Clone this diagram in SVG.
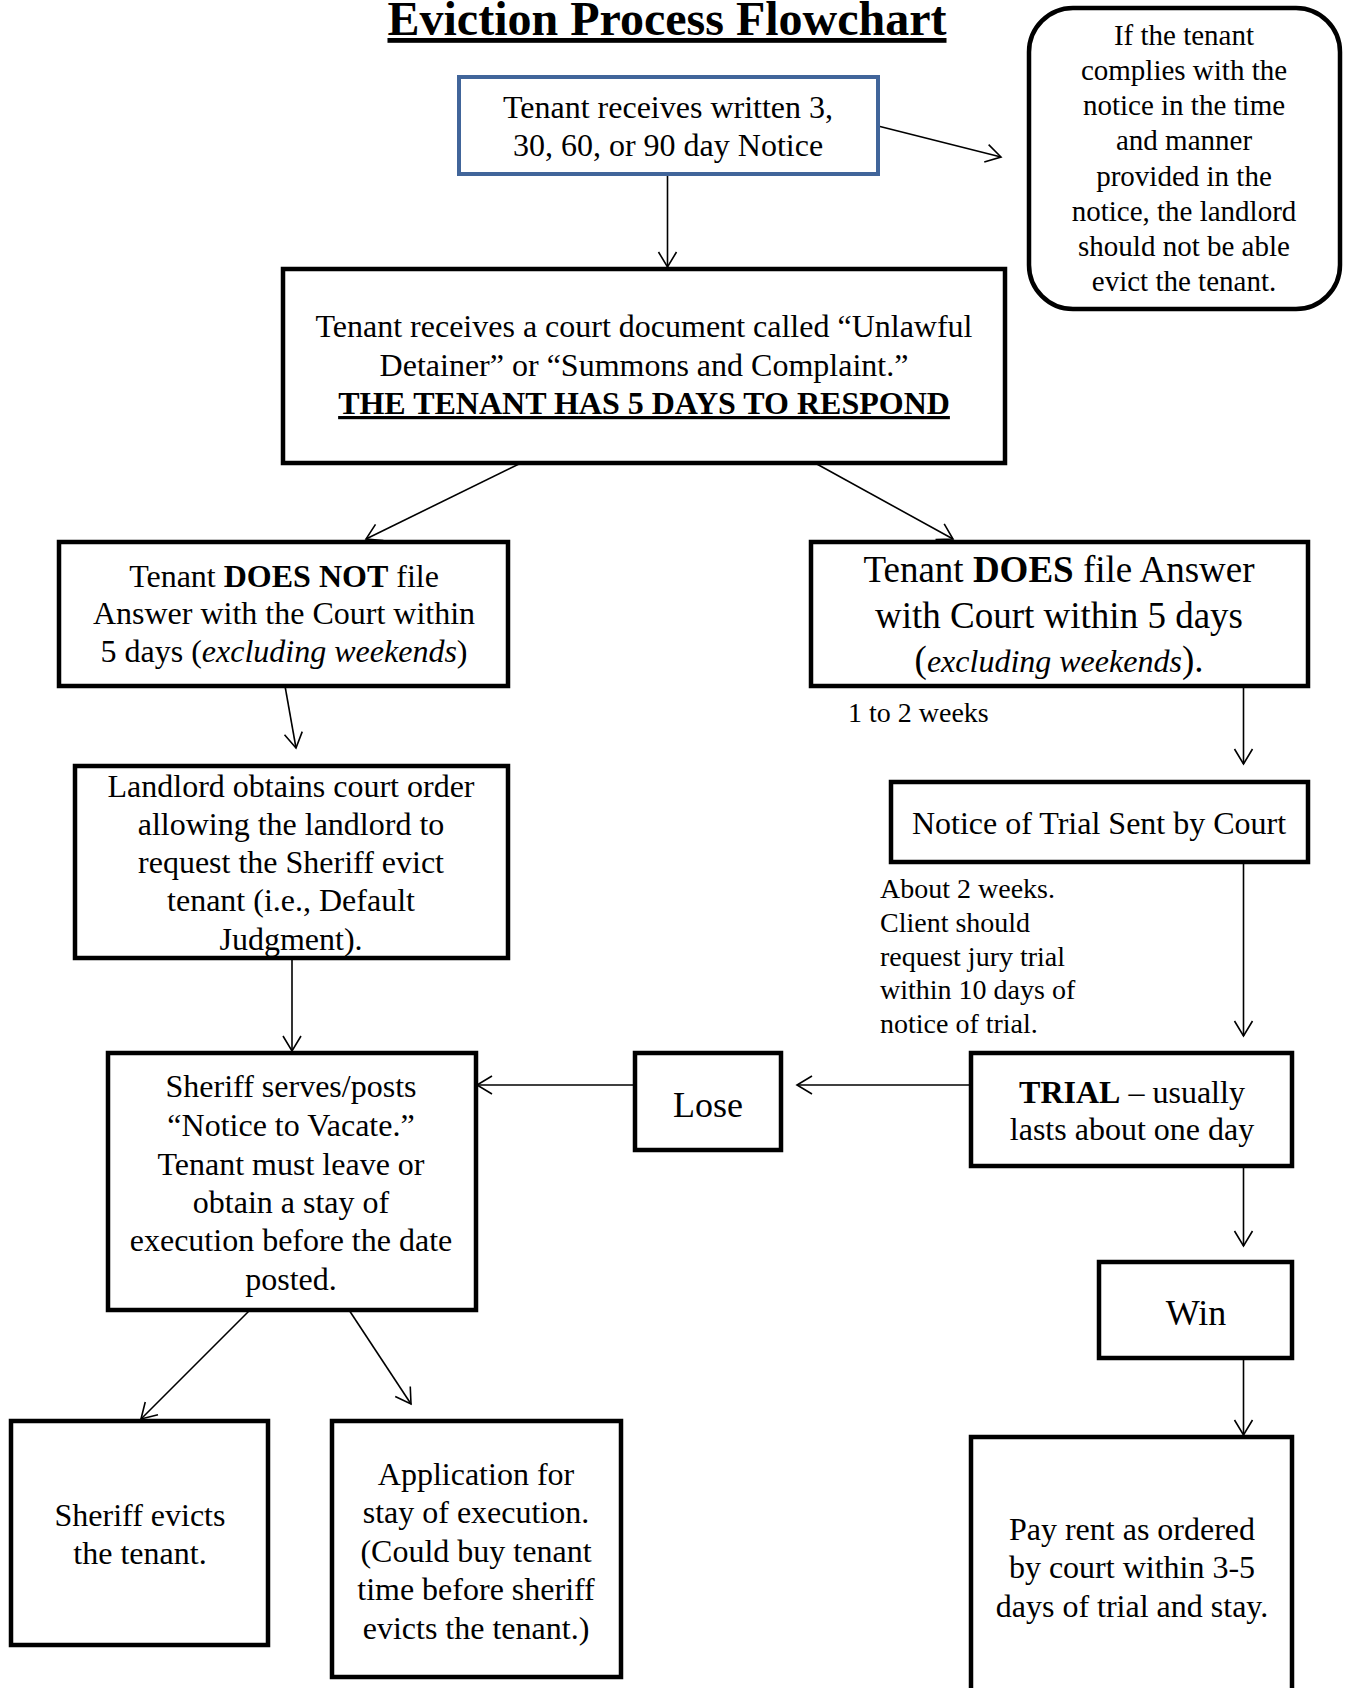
<svg xmlns="http://www.w3.org/2000/svg" width="1348" height="1688" viewBox="0 0 1348 1688">
<defs>
<style>
.t{font-family:"Liberation Serif","Times New Roman",serif;font-size:32px;fill:#000;text-anchor:middle}
.s{font-family:"Liberation Serif","Times New Roman",serif;font-size:28px;fill:#000}
.box{fill:#fff;stroke:#000;stroke-width:4.5}
.c{fill:none;stroke:#000;stroke-width:1.6}
</style>
<marker id="ah" markerUnits="userSpaceOnUse" markerWidth="18" markerHeight="22" refX="16" refY="11" orient="auto" viewBox="0 0 18 22">
<path d="M1,2 L16,11 L1,20" fill="none" stroke="#000" stroke-width="1.6"/>
</marker>
</defs>
<rect width="1348" height="1688" fill="#fff"/>

<text x="667" y="35" class="t" style="font-size:48px;font-weight:bold;text-decoration:underline">Eviction Process Flowchart</text>

<g id="connectors">
<line class="c" x1="878" y1="126" x2="1001" y2="157" marker-end="url(#ah)"/>
<line class="c" x1="667.5" y1="174" x2="667.5" y2="267" marker-end="url(#ah)"/>
<line class="c" x1="521" y1="463" x2="366" y2="539" marker-end="url(#ah)"/>
<line class="c" x1="815" y1="463" x2="953" y2="539" marker-end="url(#ah)"/>
<line class="c" x1="285" y1="686" x2="296" y2="748" marker-end="url(#ah)"/>
<line class="c" x1="1243.5" y1="686" x2="1243.5" y2="764" marker-end="url(#ah)"/>
<line class="c" x1="292" y1="958" x2="292" y2="1051" marker-end="url(#ah)"/>
<line class="c" x1="1243.5" y1="862" x2="1243.5" y2="1036" marker-end="url(#ah)"/>
<line class="c" x1="971" y1="1085" x2="797" y2="1085" marker-end="url(#ah)"/>
<line class="c" x1="635" y1="1085" x2="477" y2="1085" marker-end="url(#ah)"/>
<line class="c" x1="1243.5" y1="1166" x2="1243.5" y2="1246" marker-end="url(#ah)"/>
<line class="c" x1="250" y1="1310" x2="141" y2="1419" marker-end="url(#ah)"/>
<line class="c" x1="349" y1="1310" x2="411" y2="1404" marker-end="url(#ah)"/>
<line class="c" x1="1243.5" y1="1358" x2="1243.5" y2="1435" marker-end="url(#ah)"/>
</g>

<g id="notice">
<rect x="459" y="77" width="419" height="97" fill="#fff" stroke="#41659A" stroke-width="4"/>
<text class="t" x="668" y="118">Tenant receives written 3,</text>
<text class="t" x="668" y="156">30, 60, or 90 day Notice</text>
</g>

<g id="comply">
<rect x="1029" y="8" width="311" height="301" rx="44" class="box"/>
<text class="t" style="font-size:29px" x="1184" y="45">If the tenant</text>
<text class="t" style="font-size:29px" x="1184" y="80">complies with the</text>
<text class="t" style="font-size:29px" x="1184" y="115">notice in the time</text>
<text class="t" style="font-size:29px" x="1184" y="150">and manner</text>
<text class="t" style="font-size:29px" x="1184" y="186">provided in the</text>
<text class="t" style="font-size:29px" x="1184" y="221">notice, the landlord</text>
<text class="t" style="font-size:29px" x="1184" y="256">should not be able</text>
<text class="t" style="font-size:29px" x="1184" y="291">evict the tenant.</text>
</g>

<g id="court-doc">
<rect x="283" y="269" width="722" height="194" class="box"/>
<text class="t" x="644" y="337">Tenant receives a court document called “Unlawful</text>
<text class="t" x="644" y="376">Detainer” or “Summons and Complaint.”</text>
<text class="t" x="644" y="414" style="font-weight:bold;text-decoration:underline">THE TENANT HAS 5 DAYS TO RESPOND</text>
</g>

<g id="does-not">
<rect x="59" y="542" width="449" height="144" class="box"/>
<text class="t" x="284" y="587">Tenant <tspan font-weight="bold">DOES NOT</tspan> file</text>
<text class="t" x="284" y="624">Answer with the Court within</text>
<text class="t" x="284" y="662">5 days (<tspan font-style="italic">excluding weekends</tspan>)</text>
</g>

<g id="does">
<rect x="811" y="542" width="497" height="144" class="box"/>
<text class="t" style="font-size:37px" x="1059" y="582">Tenant <tspan font-weight="bold">DOES</tspan> file Answer</text>
<text class="t" style="font-size:37px" x="1059" y="628">with Court within 5 days</text>
<text class="t" x="1059" y="672"><tspan style="font-size:37px">(</tspan><tspan font-style="italic">excluding weekends</tspan><tspan style="font-size:37px">).</tspan></text>
</g>

<text class="s" x="848" y="722">1 to 2 weeks</text>

<g id="landlord">
<rect x="75" y="766" width="433" height="192" class="box"/>
<text class="t" x="291" y="797">Landlord obtains court order</text>
<text class="t" x="291" y="835">allowing the landlord to</text>
<text class="t" x="291" y="873">request the Sheriff evict</text>
<text class="t" x="291" y="911">tenant (i.e., Default</text>
<text class="t" x="291" y="950">Judgment).</text>
</g>

<g id="notice-trial">
<rect x="891" y="782" width="417" height="80" class="box"/>
<text class="t" x="1099" y="834">Notice of Trial Sent by Court</text>
</g>

<g id="jury-label">
<text class="s" x="880" y="898">About 2 weeks.</text>
<text class="s" x="880" y="932">Client should</text>
<text class="s" x="880" y="966">request jury trial</text>
<text class="s" x="880" y="999">within 10 days of</text>
<text class="s" x="880" y="1033">notice of trial.</text>
</g>

<g id="trial">
<rect x="971" y="1053" width="321" height="113" class="box"/>
<text class="t" x="1132" y="1103"><tspan font-weight="bold">TRIAL</tspan> – usually</text>
<text class="t" x="1132" y="1140">lasts about one day</text>
</g>

<g id="lose">
<rect x="635" y="1053" width="146" height="97" class="box"/>
<text class="t" style="font-size:36px" x="708" y="1117">Lose</text>
</g>

<g id="sheriff-serves">
<rect x="108" y="1053" width="368" height="257" class="box"/>
<text class="t" x="291" y="1097">Sheriff serves/posts</text>
<text class="t" x="291" y="1136">“Notice to Vacate.”</text>
<text class="t" x="291" y="1175">Tenant must leave or</text>
<text class="t" x="291" y="1213">obtain a stay of</text>
<text class="t" x="291" y="1251">execution before the date</text>
<text class="t" x="291" y="1290">posted.</text>
</g>

<g id="win">
<rect x="1099" y="1262" width="193" height="96" class="box"/>
<text class="t" style="font-size:36px" x="1196" y="1325">Win</text>
</g>

<g id="sheriff-evicts">
<rect x="11" y="1421" width="257" height="224" class="box"/>
<text class="t" x="140" y="1526">Sheriff evicts</text>
<text class="t" x="140" y="1564">the tenant.</text>
</g>

<g id="stay">
<rect x="332" y="1421" width="289" height="256" class="box"/>
<text class="t" x="476" y="1485">Application for</text>
<text class="t" x="476" y="1523">stay of execution.</text>
<text class="t" x="476" y="1562">(Could buy tenant</text>
<text class="t" x="476" y="1600">time before sheriff</text>
<text class="t" x="476" y="1639">evicts the tenant.)</text>
</g>

<g id="pay-rent">
<rect x="971" y="1437" width="321" height="270" class="box"/>
<text class="t" x="1132" y="1540">Pay rent as ordered</text>
<text class="t" x="1132" y="1578">by court within 3-5</text>
<text class="t" x="1132" y="1617">days of trial and stay.</text>
</g>
</svg>
